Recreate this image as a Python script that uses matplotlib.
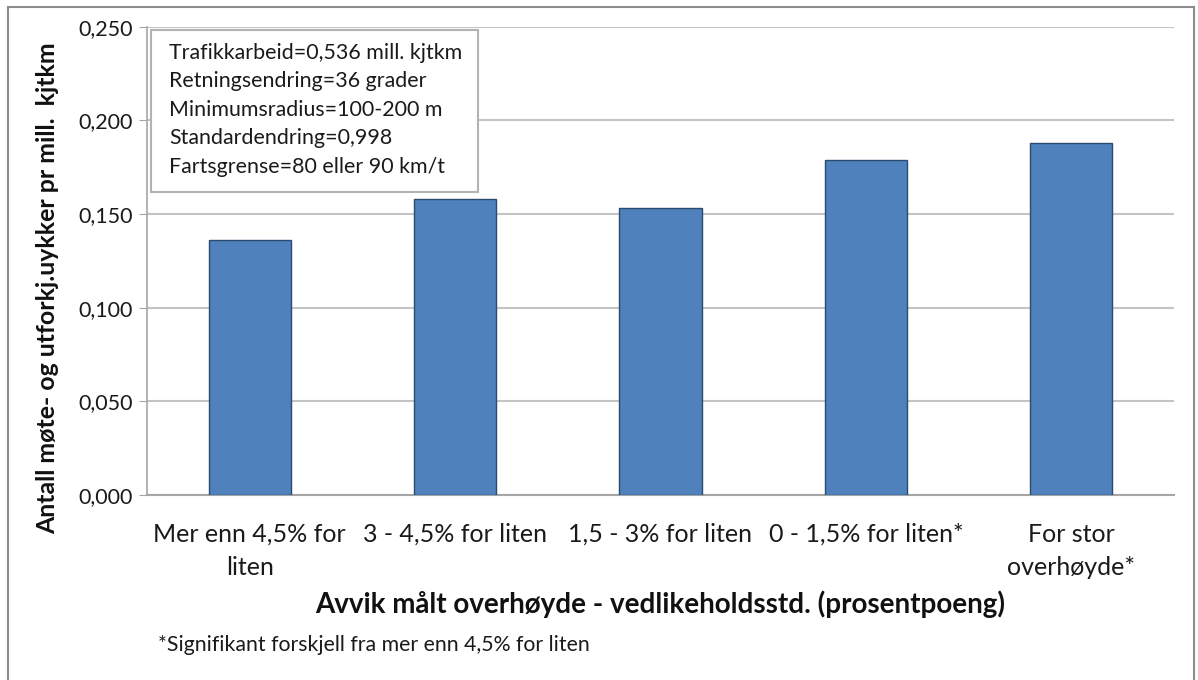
import matplotlib
matplotlib.use("Agg")
from matplotlib import pyplot as plt
from matplotlib.patches import Rectangle
import numpy as np

plt.rcParams['font.family'] = ['Lato', 'DejaVu Sans']

categories = ['Mer enn 4,5% for\nliten', '3 - 4,5% for liten', '1,5 - 3% for liten',
              '0 - 1,5% for liten*', 'For stor\noverhøyde*']
values = [0.136, 0.158, 0.153, 0.179, 0.188]
yticks = [0.000, 0.050, 0.100, 0.150, 0.200, 0.250]
info_lines = ['Trafikkarbeid=0,536 mill. kjtkm',
              'Retningsendring=36 grader',
              'Minimumsradius=100-200 m',
              'Standardendring=0,998',
              'Fartsgrense=80 eller 90 km/t']

W, H = 1198, 680
fig = plt.figure(figsize=(W / 100, H / 100), dpi=100)

# outer chart frame (bottom edge runs off the image)
fig.patches.append(Rectangle((8 / W, -0.05), (1194 - 8) / W, 1.05 - 7 / H,
                             transform=fig.transFigure, fill=False,
                             edgecolor='#8c8c8c', linewidth=1.5))

# plot area in pixels: x 147..1174, y 26.6..495
ax_w, ax_h = 1174 - 147, 495 - 26.6
ax = fig.add_axes([147 / W, 1 - 495 / H, ax_w / W, ax_h / H])

x = np.arange(len(categories))
ax.bar(x, values, width=0.4, color='#4f81bd', edgecolor='#2b4a70', linewidth=1.0, zorder=3)

ax.set_xlim(-0.5, len(categories) - 0.5)
ax.set_ylim(0, 0.25)
ax.set_yticks(yticks)
ax.set_yticklabels([f'{v:.3f}'.replace('.', ',') for v in yticks])
ax.set_xticks(x)
ax.set_xticklabels(categories, fontsize=18, color='#1a1a1a', linespacing=1.55)

ax.grid(axis='y', color='#c4c4c4', linewidth=1.5, zorder=0)
for side in ['top', 'right']:
    ax.spines[side].set_visible(False)
ax.spines['left'].set_color('#a6a6a6')
ax.spines['bottom'].set_color('#a6a6a6')
ax.spines['left'].set_linewidth(1.2)
ax.spines['bottom'].set_linewidth(1.5)
ax.tick_params(axis='y', length=6, color='#a6a6a6', labelsize=15.5, labelcolor='#1a1a1a', pad=4)
ax.tick_params(axis='x', length=0, pad=20)

ax.set_xlabel('Avvik målt overhøyde - vedlikeholdsstd. (prosentpoeng)',
              fontsize=20, fontweight='bold', labelpad=8, color='#111111')
ax.set_ylabel('Antall møte- og utforkj.uykker pr mill.  kjtkm',
              fontsize=17.9, fontweight='bold', color='#111111')
ax.yaxis.set_label_coords(-88 / ax_w, 1 - (288 - 26.6) / ax_h)

# info box
ax.add_patch(Rectangle((4 / ax_w, (495 - 192) / ax_h), (478 - 151) / ax_w, (192 - 30) / ax_h,
                       transform=ax.transAxes, facecolor='white',
                       edgecolor='#b3b3b3', linewidth=1.5, zorder=4))
ax.text(22 / ax_w, (495 - 43) / ax_h, '\n'.join(info_lines), transform=ax.transAxes,
        fontsize=15.4, va='top', ha='left', linespacing=1.53, color='#1a1a1a', zorder=5)

fig.text(158 / W, 1 - 645 / H, '*Signifikant forskjell fra mer enn 4,5% for liten',
         fontsize=15.3, va='center', ha='left', color='#1a1a1a')

fig.savefig('out.png', dpi=100)
